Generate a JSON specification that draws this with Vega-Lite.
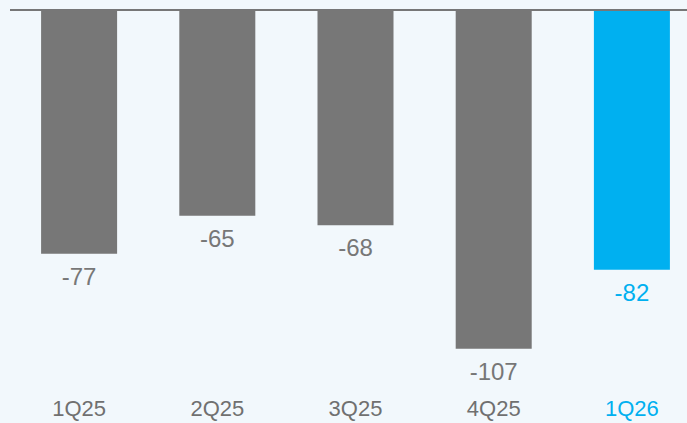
{
  "$schema": "https://vega.github.io/schema/vega-lite/v6.json",
  "width": 691,
  "height": 380,
  "autosize": {"type": "none"},
  "padding": {"left": 10, "top": 10, "right": 0, "bottom": 33},
  "background": "#f2f8fc",
  "config": {"view": {"stroke": null}, "font": "Liberation Sans"},
  "data": {"values": [
    {"q": "1Q25", "v": -77},
    {"q": "2Q25", "v": -65},
    {"q": "3Q25", "v": -68},
    {"q": "4Q25", "v": -107},
    {"q": "1Q26", "v": -82}
  ]},
  "encoding": {
    "x": {"field": "q", "type": "nominal", "sort": null,
      "scale": {"paddingInner": 0.45, "paddingOuter": 0.225},
      "axis": {"title": null, "ticks": false, "domain": false, "labelAngle": 0,
        "labelFontSize": 22, "labelPadding": 8,
        "labelColor": {"condition": {"test": "datum.value === '1Q26'", "value": "#00b0f0"}, "value": "#707070"}}},
    "y": {"field": "v", "type": "quantitative", "scale": {"domain": [-120, 0], "nice": false}, "axis": null}
  },
  "layer": [
    {"mark": {"type": "bar"},
     "encoding": {"color": {"condition": {"test": "datum.q === '1Q26'", "value": "#00b0f0"}, "value": "#777777"}}},
    {"mark": {"type": "text", "dy": 24, "baseline": "middle", "fontSize": 24},
     "encoding": {"text": {"field": "v"},
       "color": {"condition": {"test": "datum.q === '1Q26'", "value": "#00b0f0"}, "value": "#777777"}}},
    {"mark": {"type": "rule", "color": "#777777", "strokeWidth": 2},
     "encoding": {"y": {"datum": 0}, "x": null}}
  ]
}
